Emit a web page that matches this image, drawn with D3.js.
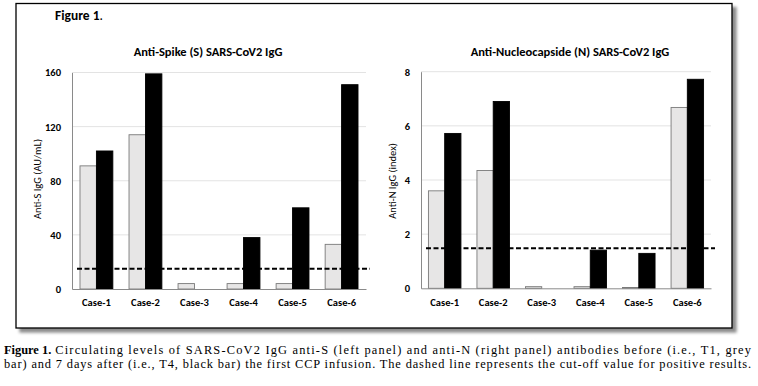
<!DOCTYPE html>
<html>
<head>
<meta charset="utf-8">
<script src="https://cdn.jsdelivr.net/npm/d3@7/dist/d3.min.js"></script>
<style>
  html, body { margin: 0; padding: 0; background: #fff; }
  svg { display: block; }
</style>
</head>
<body>
<svg id="chart" width="758" height="386"></svg>
<script>
// ---- data ----
const cases = ["Case-1", "Case-2", "Case-3", "Case-4", "Case-5", "Case-6"];
const antiS_T1 = [91, 114, 4, 4, 4, 33];
const antiS_T4 = [102, 159, 0, 38, 60, 151];
const antiS_cutoff = 15;
const antiS_ticks = [0, 40, 80, 120, 160];
const antiN_T1 = [3.6, 4.35, 0.06, 0.06, 0.03, 6.68];
const antiN_T4 = [5.72, 6.9, 0, 1.41, 1.29, 7.72];
const antiN_cutoff = 1.48;
const antiN_ticks = [0, 2, 4, 6, 8];

const svg = d3.select("#chart");
const FONT = "Carlito, Calibri, Lato, sans-serif";
const SERIF = "'Liberation Serif', 'Times New Roman', serif";

// frame with shadow
const defs = svg.append("defs");
const f = defs.append("filter").attr("id", "shadow").attr("x", "-5%").attr("y", "-5%").attr("width", "115%").attr("height", "115%");
f.append("feDropShadow").attr("dx", 4).attr("dy", 4).attr("stdDeviation", 1.6).attr("flood-color", "#000").attr("flood-opacity", 0.45);
svg.append("rect").attr("x", 16).attr("y", 3.5).attr("width", 716).attr("height", 324.5)
  .attr("fill", "#fff").attr("stroke", "#000").attr("stroke-width", 1.3).attr("filter", "url(#shadow)");

svg.append("text").attr("x", 55).attr("y", 20).style("font-family", FONT).attr("font-size", 13.5)
  .attr("font-weight", "bold").attr("fill", "#000")
  .text("Figure 1").append("tspan").attr("font-weight", "normal").text(".");

function panel(opts) {
  const { x0, x1, yTop, yBot, max, ticks, t1, t4, cutoff, title, titleX, ylabel, ylabelX, ylabelY, po } = opts;
  const g = svg.append("g");
  const x = d3.scaleBand().domain(cases).range([x0, x1]).paddingInner(0.33).paddingOuter(po);
  const sub = d3.scaleBand().domain(["T1", "T4"]).range([0, x.bandwidth()]);
  const y = d3.scaleLinear().domain([0, max]).range([yBot, yTop]);

  // gridlines
  g.append("g").selectAll("line").data(ticks.filter(t => t > 0)).join("line")
    .attr("x1", x0).attr("x2", x1).attr("y1", d => y(d)).attr("y2", d => y(d))
    .attr("stroke", "#e3e3e3").attr("stroke-width", 1);

  // y axis
  const ya = g.append("g").attr("transform", `translate(${x0},0)`)
    .call(d3.axisLeft(y).tickValues(ticks).tickSize(0).tickPadding(11));
  ya.select(".domain").attr("stroke", "#8a8a8a");
  ya.selectAll("text").style("font-family", FONT).attr("font-size", 10.5).attr("font-weight", "bold").attr("fill", "#000");

  // bars
  const rows = cases.map((c, i) => ({ c, vals: [{ k: "T1", v: t1[i] }, { k: "T4", v: t4[i] }] }));
  const grp = g.append("g").selectAll("g").data(rows).join("g").attr("transform", d => `translate(${x(d.c)},0)`);
  grp.selectAll("rect").data(d => d.vals.filter(e => e.v > 0)).join("rect")
    .attr("x", d => sub(d.k)).attr("width", sub.bandwidth())
    .attr("y", d => y(d.v)).attr("height", d => yBot - y(d.v))
    .attr("fill", d => d.k === "T1" ? "#e7e6e6" : "#000")
    .attr("stroke", d => d.k === "T1" ? "#7a7a7a" : "#000").attr("stroke-width", 0.9);

  // x axis
  const xa = g.append("g").attr("transform", `translate(0,${yBot})`)
    .call(d3.axisBottom(x).tickSize(0).tickPadding(10));
  xa.select(".domain").attr("stroke", "#8a8a8a");
  xa.selectAll("text").style("font-family", FONT).attr("font-size", 10.5).attr("font-weight", "bold").attr("fill", "#000");

  // cut-off
  g.append("line").attr("x1", x0 + 5).attr("x2", x1 + 4).attr("y1", y(cutoff)).attr("y2", y(cutoff))
    .attr("stroke", "#000").attr("stroke-width", 2).attr("stroke-dasharray", "5,2.5");

  // title
  g.append("text").attr("x", titleX).attr("y", 56).attr("text-anchor", "middle")
    .style("font-family", FONT).attr("font-size", 12.5).attr("font-weight", "bold").attr("fill", "#000").text(title);
  // y label
  g.append("text").attr("transform", `translate(${ylabelX},${ylabelY}) rotate(-90)`).attr("text-anchor", "middle")
    .style("font-family", FONT).attr("font-size", 10.5).attr("fill", "#000").text(ylabel);
}

panel({ x0: 72, x1: 366, yTop: 72.5, yBot: 289, max: 160, ticks: antiS_ticks, t1: antiS_T1, t4: antiS_T4,
  cutoff: antiS_cutoff, title: "Anti-Spike (S) SARS-CoV2 IgG", titleX: 208, ylabel: "Anti-S IgG (AU/mL)",
  ylabelX: 41, ylabelY: 179, po: 0.163 });
panel({ x0: 421, x1: 711, yTop: 71.7, yBot: 288.3, max: 8, ticks: antiN_ticks, t1: antiN_T1, t4: antiN_T4,
  cutoff: antiN_cutoff, title: "Anti-Nucleocapside (N) SARS-CoV2 IgG", titleX: 570, ylabel: "Anti-N IgG (index)",
  ylabelX: 396, ylabelY: 181, po: 0.153 });

// caption
const CAP_SIZE = 12.4, CAP_X0 = 4, CAP_X1 = 751, CAP_Y1 = 354, CAP_Y2 = 367.8;
const lab = svg.append("text").attr("x", CAP_X0).attr("y", CAP_Y1).style("font-family", SERIF)
  .attr("font-size", CAP_SIZE).attr("font-weight", "bold").attr("fill", "#000").text("Figure 1.");
const labW = lab.node().getComputedTextLength() + 4;
svg.append("text").attr("x", CAP_X0 + labW).attr("y", CAP_Y1).style("font-family", SERIF)
  .attr("font-size", CAP_SIZE).attr("fill", "#000")
  .attr("textLength", CAP_X1 - CAP_X0 - labW).attr("lengthAdjust", "spacing")
  .text("Circulating levels of SARS-CoV2 IgG anti-S (left panel) and anti-N (right panel) antibodies before (i.e., T1, grey");
svg.append("text").attr("x", CAP_X0).attr("y", CAP_Y2).style("font-family", SERIF)
  .attr("font-size", CAP_SIZE).attr("fill", "#000")
  .attr("textLength", CAP_X1 - CAP_X0).attr("lengthAdjust", "spacing")
  .text("bar) and 7 days after (i.e., T4, black bar) the first CCP infusion. The dashed line represents the cut-off value for positive results.");
</script>
</body>
</html>
